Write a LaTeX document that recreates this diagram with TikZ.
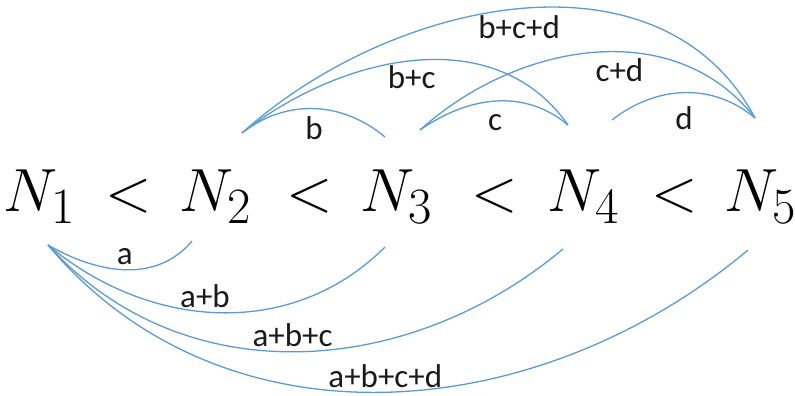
\documentclass[tikz,border=0pt]{standalone}
\usepackage[no-math]{fontspec}
\newfontfamily\lblfont{Carlito}
\usetikzlibrary{positioning}
\definecolor{arcblue}{HTML}{5B9BD5}
\definecolor{ink}{HTML}{1A1A1A}
\tikzset{
  term/.style={anchor=base,inner sep=0pt,font=\Huge,scale=2.45},
  link/.style={draw=arcblue,line width=1.3pt},
  lbl/.style={font=\lblfont\fontsize{33}{36}\selectfont,text=ink,inner sep=1pt},
}

\begin{document}
\begin{tikzpicture}[x=1pt,y=1pt]
  \useasboundingbox (0,0) rectangle (795,396);
  % the chain
  \node[term] (n1) at (40,184) {$N_1$};
  \node[term] (lt1) at (129,184) {$<$};
  \node[term] (n2) at (216,184) {$N_2$};
  \node[term] (lt2) at (310,184) {$<$};
  \node[term] (n3) at (397,184) {$N_3$};
  \node[term] (lt3) at (495,184) {$<$};
  \node[term] (n4) at (584,184) {$N_4$};
  \node[term] (lt4) at (675,184) {$<$};
  \node[term] (n5) at (761,184) {$N_5$};
  % arc ends above
  \coordinate (t2) at (242,263);
  \coordinate (e3) at (385,259);
  \coordinate (s3) at (420,266);
  \coordinate (e4) at (568,271);
  \coordinate (s4) at (612,276);
  \coordinate (e5) at (755,278);
  % arc ends below
  \coordinate (b1) at (48,151);
  \coordinate (f2) at (192,155);
  \coordinate (f3) at (385,149);
  \coordinate (f4) at (563,147);
  \coordinate (f5) at (748,146);
  % upper arcs
  \draw[link] (t2) to[out=38,in=140] node[lbl,below=6pt]{b} (e3);
  \draw[link] (t2) to[out=38,in=125] node[lbl,below=3pt,pos=0.49]{b+c} (e4);
  \draw[link] (t2) to[out=42,in=118] node[lbl,below=5pt]{b+c+d} (e5);
  \draw[link] (s3) to[out=35,in=140] node[lbl,below=12pt]{c} (e4);
  \draw[link] (s3) to[out=42,in=128] node[lbl,below=5pt,pos=0.57]{c+d} (e5);
  \draw[link] (s4) to[out=38,in=140] node[lbl,below=12pt]{d} (e5);
  % lower arcs
  \draw[link] (b1) to[out=-30,in=-130] node[lbl,above=3pt]{a} (f2);
  \draw[link] (b1) to[out=-40,in=-135] node[lbl,above=3pt,pos=0.46]{a+b} (f3);
  \draw[link] (b1) to[out=-48,in=-140] node[lbl,above=3pt,pos=0.49]{a+b+c} (f4);
  \draw[link] (b1) to[out=-50,in=-140] node[lbl,above=3pt,pos=0.5]{a+b+c+d} (f5);
\end{tikzpicture}
\end{document}
